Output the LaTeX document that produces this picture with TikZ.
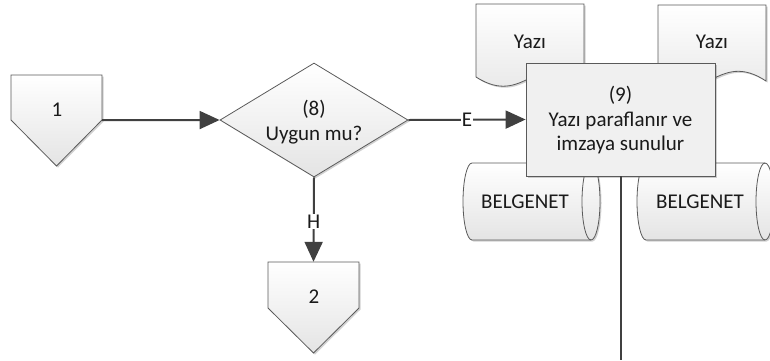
\documentclass[tikz,border=0pt]{standalone}
\usepackage{fontspec}
\setmainfont{Carlito}
\usetikzlibrary{arrows.meta,shapes.geometric,shadows}
\definecolor{bordergray}{HTML}{5A5A5A}
\definecolor{linegray}{HTML}{404040}
\definecolor{fillgray}{HTML}{E4E4E4}
\definecolor{boxgray}{HTML}{F0F0F0}
\definecolor{textblack}{HTML}{1A1A1A}
\begin{document}
\begin{tikzpicture}[x=1pt,y=-1pt,
  outline/.style={draw=bordergray,line width=0.8pt},
  shapefill/.style={top color=white,bottom color=fillgray},
  softshadow/.style={drop shadow={shadow xshift=1.5pt,shadow yshift=-1.5pt,opacity=0.18,fill=black}},
  flow/.style={draw=linegray,line width=2pt,-{Triangle[length=20pt,width=18pt]}},
  plainline/.style={draw=linegray,line width=2pt},
  txt/.style={font=\fontsize{21}{24.5}\selectfont,text=textblack,align=center,inner sep=0pt},
  lbl/.style={font=\fontsize{21}{24.5}\selectfont,text=textblack,fill=white,inner sep=1pt},
  anchorbox/.style={rectangle,inner sep=0pt,minimum width=91pt,minimum height=45pt}]
\useasboundingbox (0,0) rectangle (770,360);

% documents "Yazi"
\path[outline,shapefill,softshadow] (476,4) -- (584,4) -- (584,80)
  .. controls (535.4,48) and (524.6,108) .. (476,77) -- cycle;
\node[txt] (doc1) at (530,42) {Yazı};
\path[outline,shapefill,softshadow] (658,5) -- (766,5) -- (766,81)
  .. controls (717.4,49) and (706.6,109) .. (658,78) -- cycle;
\node[txt] (doc2) at (712,42) {Yazı};

% cylinders "BELGENET"
\path[outline,shapefill,softshadow] (472,163) -- (591,163)
  arc[start angle=-90,end angle=90,x radius=9,y radius=38.5] -- (472,240)
  arc[start angle=90,end angle=270,x radius=9,y radius=38.5] -- cycle;
\draw[outline] (591,163) arc[start angle=270,end angle=90,x radius=9,y radius=38.5];
\node[txt] (db1) at (525,202) {BELGENET};
\path[outline,shapefill,softshadow] (646,163) -- (765,163)
  arc[start angle=-90,end angle=90,x radius=9,y radius=38.5] -- (646,240)
  arc[start angle=90,end angle=270,x radius=9,y radius=38.5] -- cycle;
\draw[outline] (765,163) arc[start angle=270,end angle=90,x radius=9,y radius=38.5];
\node[txt] (db2) at (700,202) {BELGENET};

% process box (9)
\node[rectangle,outline,fill=boxgray,softshadow,minimum width=189pt,minimum height=113pt,inner sep=0pt] (b9) at (620.5,119.5) {};
\node[txt] (t9) at (620.5,120.5) {(9)\\Yazı paraflanır ve\\imzaya sunulur};

% off-page connector 1
\path[outline,shapefill,softshadow] (11,75) -- (102,75) -- (102,120) -- (56.5,166) -- (11,120) -- cycle;
\node[anchorbox] (c1) at (56.5,97.5) {};
\node[txt] (t1) at (57,110) {1};

% decision (8)
\node[diamond,outline,shapefill,softshadow,minimum width=188pt,minimum height=114pt,inner sep=0pt] (d8) at (314,120) {};
\node[txt] (t8) at (314,122) {(8)\\Uygun mu?};

% off-page connector 2
\path[outline,shapefill,softshadow] (268,262) -- (359,262) -- (359,308) -- (313.5,353) -- (268,308) -- cycle;
\node[anchorbox,minimum height=46pt] (c2) at (313.5,285) {};
\node[txt] (t2) at (314,297) {2};

% connectors
\coordinate (endpt) at (620.5,360);
\draw[flow] (c1.south east) -- (d8.west);
\draw[flow] (d8.east) -- node[lbl] (le) {E} (b9.west);
\draw[flow] (d8.south) -- node[lbl,pos=0.52] (lh) {H} (c2.north);
\draw[plainline] (b9.south) -- (endpt);
\end{tikzpicture}
\end{document}
